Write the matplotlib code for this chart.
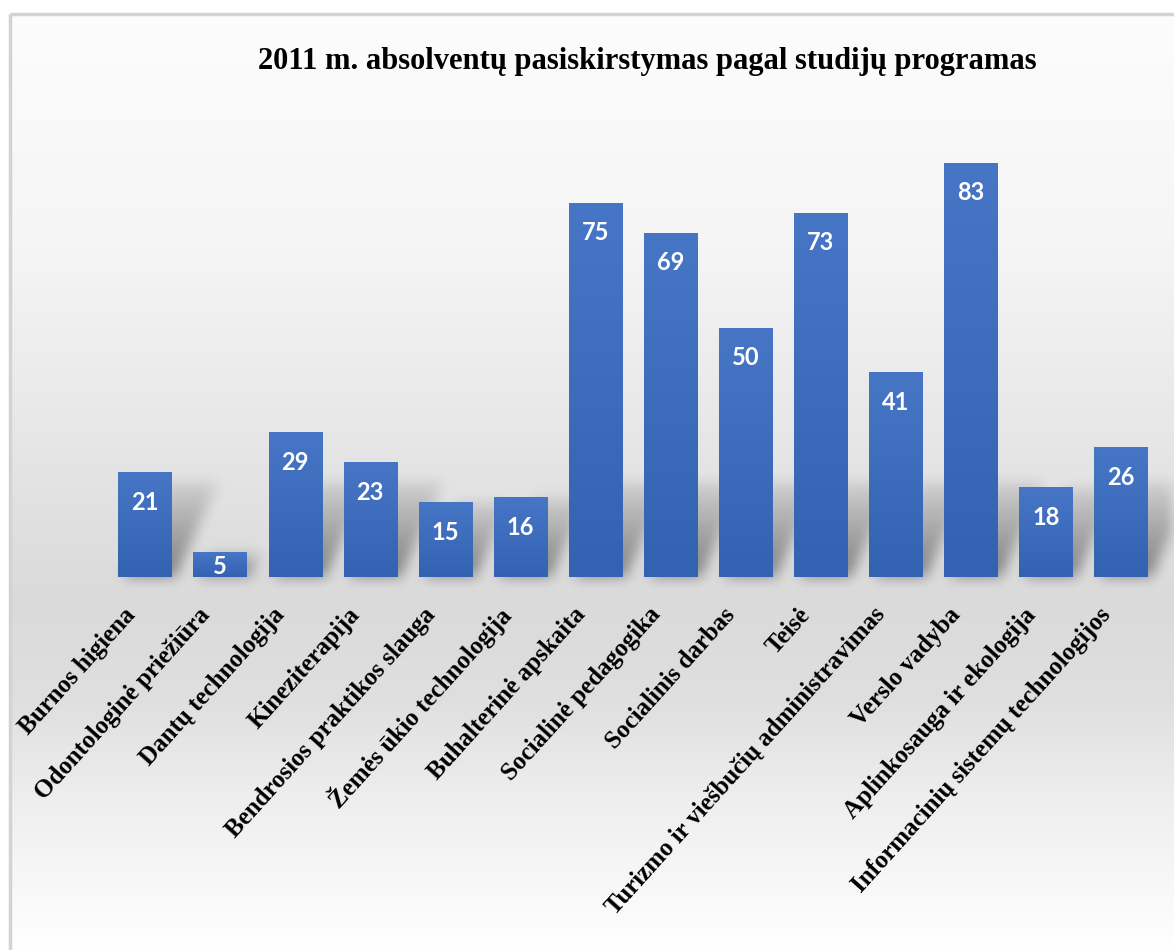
import numpy as np
import matplotlib.pyplot as plt
from matplotlib.patches import Rectangle
from matplotlib.colors import LinearSegmentedColormap
from matplotlib.transforms import ScaledTranslation

# Data
programs = ["Burnos higiena", "Odontologinė priežiūra", "Dantų technologija",
            "Kineziterapija", "Bendrosios praktikos slauga", "Žemės ūkio technologija",
            "Buhalterinė apskaita", "Socialinė pedagogika", "Socialinis darbas",
            "Teisė", "Turizmo ir viešbučių administravimas", "Verslo vadyba",
            "Aplinkosauga ir ekologija", "Informacinių sistemų technologijos"]
graduates = [21, 5, 29, 23, 15, 16, 75, 69, 50, 73, 41, 83, 18, 26]
title = "2011 m. absolventų pasiskirstymas pagal studijų programas"

W, H = 1174, 950
fig = plt.figure(figsize=(W / 100, H / 100), dpi=100)
fig.patch.set_facecolor('white')

# background panel with soft vertical gradient and grey frame
bg = fig.add_axes([0, 0, 1, 1], zorder=-5)
bg.set_xlim(0, W)
bg.set_ylim(H, 0)
bg.axis('off')
ys = np.array([14, 250, 450, 600, 700, 800, 950])
gs = np.array([0.99, 0.96, 0.90, 0.855, 0.875, 0.935, 1.0])
col = np.interp(np.arange(14, H), ys, gs)
grad = np.repeat(col[:, None], 3, axis=1)[:, None, :]
bg.imshow(grad, extent=(10, W, H, 14), aspect='auto', interpolation='bilinear')
bg.add_patch(Rectangle((9.5, 13.5), W + 20, H + 20, fill=False, ec='#d3d3d3', lw=2.5))

# main axes
ax = fig.add_axes([107.5 / W, 1 - 577 / H, 1051 / W, 457 / H])
ax.set_facecolor('none')
x = np.arange(len(programs))
bars = ax.bar(x, graduates, width=0.71, color='#4472c4', zorder=3)
ax.set_xlim(-0.5, len(programs) - 0.5)
ax.set_ylim(0, 91.6)

# blurred perspective shadows behind the bars (raster in pixel space)
mask = np.zeros((H, W))
for b in bars:
    (px0, py0), (px1, py1) = ax.transData.transform(
        [(b.get_x(), 0), (b.get_x() + b.get_width(), b.get_height())])
    base = H - py0
    hs = min(py1 - py0, 95)
    for r in range(int(base - hs), int(base)):
        t = (base - r) / hs
        sk = 0.45 * hs * t
        l, rr = int(px0 + 6 + sk), int(px1 + 4 + sk)
        mask[r, max(l, 0):min(rr, W)] = np.maximum(mask[r, max(l, 0):min(rr, W)], 1 - 0.8 * t)


def blur(a, k, axis):
    ker = np.ones(k) / k
    return np.apply_along_axis(lambda m: np.convolve(m, ker, mode='same'), axis, a)


for _ in range(2):
    mask = blur(blur(mask, 15, 1), 15, 0)
shadow = np.zeros((H, W, 4))
shadow[..., 3] = np.clip(mask * 0.42, 0, 1)
bg.imshow(shadow, extent=(0, W, H, 0), aspect='auto', zorder=2)

# gradient fill of the bars
gradient = np.linspace(0, 1, 256)[:, None]
cmap = LinearSegmentedColormap.from_list('barblue', ['#3462b3', '#4876c7'])
for b in bars:
    im = ax.imshow(gradient, cmap=cmap, aspect='auto', origin='lower',
                   extent=(b.get_x(), b.get_x() + b.get_width(), 0, b.get_height()),
                   zorder=4)
    im.set_clip_path(b)
ax.set_xlim(-0.5, len(programs) - 0.5)
ax.set_ylim(0, 91.6)

# value labels
for b, v in zip(bars, graduates):
    ax.text(b.get_x() + b.get_width() / 2, max(v - 6, 2.2), str(v),
            ha='center', va='center', color='white', fontsize=17,
            fontweight='bold', family='Lato', zorder=5)

for s in ax.spines.values():
    s.set_visible(False)
ax.set_yticks([])
ax.set_xticks(x)
ax.set_xticklabels(programs, rotation=48, ha='right', va='center',
                   rotation_mode='anchor', fontsize=18, fontweight='bold',
                   family='Liberation Serif')
ax.tick_params(axis='x', length=0, pad=0)
off = ScaledTranslation(-14 / 100, -34 / 100, fig.dpi_scale_trans)
for lbl in ax.get_xticklabels():
    lbl.set_transform(lbl.get_transform() + off)

fig.text(647 / W, 1 - 62 / H, title, ha='center', va='center', fontsize=22,
         fontweight='bold', family='Liberation Serif')

fig.savefig('out.png', dpi=100)
